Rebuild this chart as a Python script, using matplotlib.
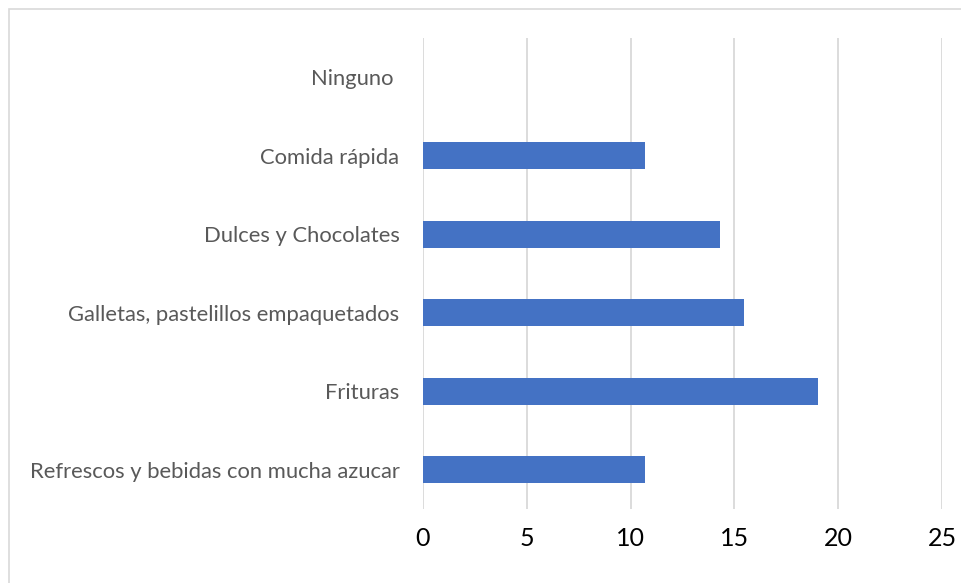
import matplotlib.pyplot as plt
from matplotlib.patches import Rectangle

plt.rcParams['font.family'] = ['Lato', 'DejaVu Sans']

categorias = ['Refrescos y bebidas con mucha azucar', 'Frituras',
              'Galletas, pastelillos empaquetados', 'Dulces y Chocolates',
              'Comida rápida', 'Ninguno ']
valores = [10.71, 19.05, 15.48, 14.29, 10.71, 0]
ticks_x = [0, 5, 10, 15, 20, 25]

fig = plt.figure(figsize=(9.61, 5.83), dpi=100)
ax = fig.add_axes([423 / 961, 1 - 509 / 583, (942 - 423) / 961, (509 - 38) / 583])

# marco del grafico
fig.patches.append(Rectangle((9 / 961, -0.1), 1.2, 1 - 9 / 583 + 0.1,
                             transform=fig.transFigure, fill=False,
                             edgecolor='#D9D9D9', linewidth=1.2))

y = range(len(categorias))
ax.barh(y, valores, height=0.35, color='#4472C4', zorder=3)

ax.set_xlim(0, 25)
ax.set_ylim(-0.5, len(categorias) - 0.5)
ax.set_xticks(ticks_x)
ax.set_yticks(list(y))
ax.set_yticklabels(categorias, fontsize=15.8, color='#595959')
ax.tick_params(axis='x', labelsize=18, colors='black', length=0, pad=13)
ax.tick_params(axis='y', length=0, pad=17)
ax.grid(axis='x', color='#D9D9D9', linewidth=1.3, zorder=0)
for s in ax.spines.values():
    s.set_visible(False)

plt.savefig('out.png', dpi=100)
